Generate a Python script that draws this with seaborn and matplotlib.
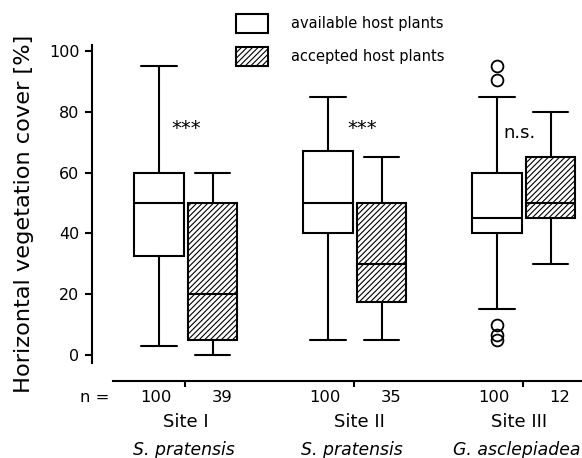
import matplotlib
matplotlib.use("Agg")
import matplotlib.pyplot as plt
import seaborn as sns
from matplotlib.patches import Patch

# ---- data ----
sites = ["Site I", "Site II", "Site III"]
species = ["S. pratensis", "S. pratensis", "G. asclepiadea"]
groups = ["available host plants", "accepted host plants"]
n_available = [100, 100, 100]
n_accepted = [39, 35, 12]

# five-number summaries (whislo, q1, median, q3, whishi)
avail_lo = [3, 5, 15]
avail_q1 = [32.7, 40, 40]
avail_med = [50, 50, 45]
avail_q3 = [60, 67.2, 60]
avail_hi = [95.2, 85, 85]
avail_fliers = [[], [], [95, 90.5, 10, 6.5, 5]]

acc_lo = [0, 5, 30]
acc_q1 = [5, 17.5, 45]
acc_med = [20, 30, 50]
acc_q3 = [50, 50, 65]
acc_hi = [60, 65, 80]
acc_fliers = [[], [], []]

signif = ["***", "***", "n.s."]

sns.set_theme(style="ticks")
plt.rcParams["font.family"] = ["DejaVu Sans"]
plt.rcParams["hatch.linewidth"] = 0.8
for k in ["text.color", "axes.labelcolor", "xtick.color", "ytick.color", "axes.edgecolor"]:
    plt.rcParams[k] = "black"

fig = plt.figure(figsize=(5.82, 4.58), dpi=100)
ax = fig.add_axes([92 / 582, 77 / 458, 490 / 582, (381 - 44) / 458])

def stats(lo, q1, med, q3, hi, fl):
    return [dict(whislo=a, q1=b, med=c, q3=d, whishi=e, fliers=f)
            for a, b, c, d, e, f in zip(lo, q1, med, q3, hi, fl)]

xs = list(range(len(sites)))
width = 0.295
lw = 1.5
common = dict(widths=width, capwidths=0.21, patch_artist=True,
              medianprops=dict(color="black", lw=lw),
              whiskerprops=dict(color="black", lw=lw),
              capprops=dict(color="black", lw=lw),
              flierprops=dict(marker="o", markerfacecolor="none",
                              markeredgecolor="black", markersize=8.5, markeredgewidth=1.3))

b1 = ax.bxp(stats(avail_lo, avail_q1, avail_med, avail_q3, avail_hi, avail_fliers),
            positions=[x - 0.153 for x in xs], **common)
b2 = ax.bxp(stats(acc_lo, acc_q1, acc_med, acc_q3, acc_hi, acc_fliers),
            positions=[x + 0.163 for x in xs], **common)
for p in b1["boxes"]:
    p.set_facecolor("white"); p.set_edgecolor("black"); p.set_linewidth(lw)
for p in b2["boxes"]:
    p.set_facecolor("white"); p.set_edgecolor("black"); p.set_linewidth(lw)
    p.set_hatch("//////")

ax.set_xlim(-0.55, 2.349)
ax.set_ylim(-8.55, 102.3)
ax.set_yticks([0, 20, 40, 60, 80, 100])
ax.set_xticks([0, 1, 2])
ax.set_xticklabels([])
ax.tick_params(axis="y", labelsize=11.5, length=5, width=1.5, color="black", pad=4)
ax.tick_params(axis="x", length=4, width=1.5, color="black")
sns.despine(ax=ax)
ax.spines["left"].set_bounds(-2.5, 102)
ax.spines["left"].set_linewidth(1.5)
ax.spines["bottom"].set_bounds(-0.426, 2.349)
ax.spines["bottom"].set_linewidth(1.5)
ax.set_ylabel("Horizontal vegetation cover [%]", fontsize=16.2)
ax.yaxis.set_label_coords(-0.119, 0.496)
ax.set_xlabel("")

trans = ax.get_xaxis_transform()
ax.text(-0.45, -0.0475, "n =", transform=trans, ha="right", va="center", fontsize=11.8)
site_dx = [0.006, 0.03, -0.025]
spec_dx = [-0.006, -0.015, -0.036]
for i, x in enumerate(xs):
    ax.text(x - 0.173, -0.0475, str(n_available[i]), transform=trans, ha="center", va="center", fontsize=11.8)
    ax.text(x + 0.219, -0.0475, str(n_accepted[i]), transform=trans, ha="center", va="center", fontsize=11.8)
    ax.text(x + site_dx[i], -0.122, sites[i], transform=trans, ha="center", va="center", fontsize=13)
    ax.text(x + spec_dx[i], -0.205, species[i], transform=trans, ha="center", va="center", fontsize=12.4, style="italic")

sig_dx = [0.006, 0.047, -0.021]
sig_y = [74.6, 74.6, 73.0]
for i, x in enumerate(xs):
    ax.text(x + sig_dx[i], sig_y[i], signif[i], ha="center", va="center",
            fontsize=14 if signif[i].startswith("*") else 13)

handles = [Patch(facecolor="white", edgecolor="black", lw=lw),
           Patch(facecolor="white", edgecolor="black", lw=lw, hatch="//////")]
fig.legend(handles, groups, loc="upper left", bbox_to_anchor=(236 / 582, 1 - 14 / 458),
           frameon=False, fontsize=10.5, handlelength=2.2, handleheight=1.64,
           labelspacing=0.93, handletextpad=1.6, borderpad=0, borderaxespad=0)

fig.savefig("out.png", dpi=100)
